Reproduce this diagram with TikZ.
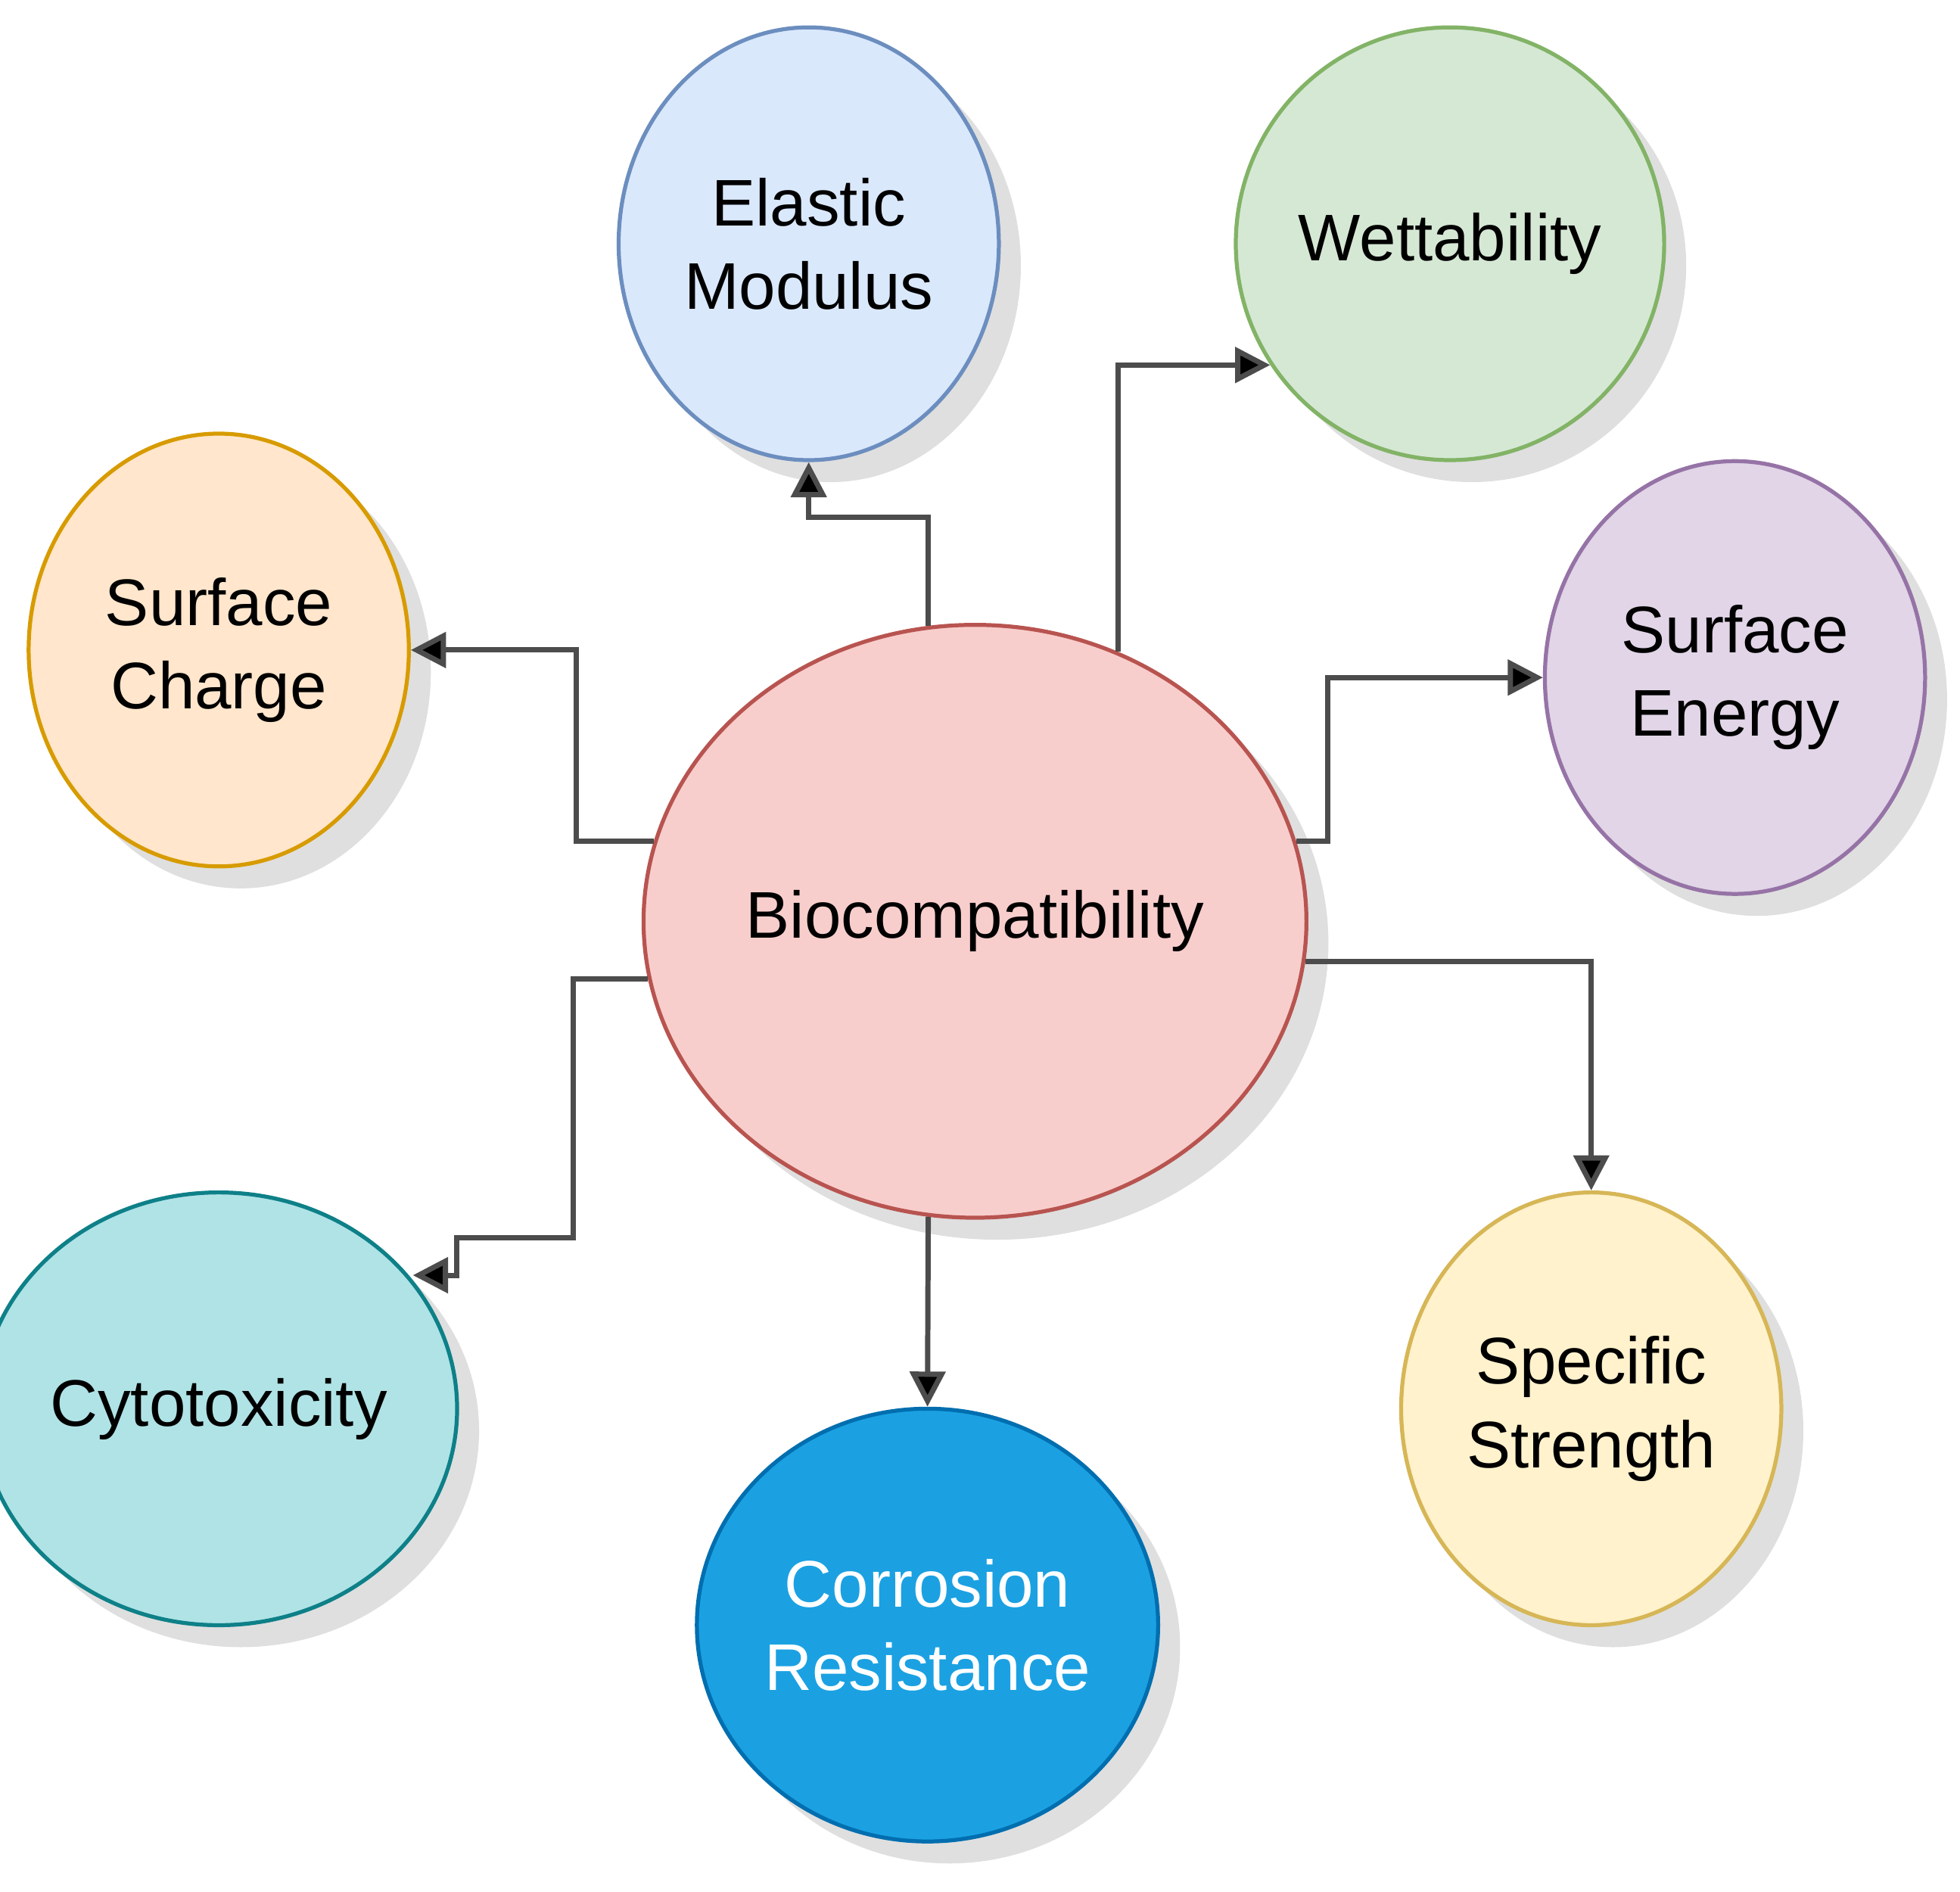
\documentclass[tikz,border=0pt]{standalone}
\usepackage{fontspec}
\setmainfont{Liberation Sans}
\usetikzlibrary{positioning, arrows.meta, shapes.geometric, shadows}
\definecolor{bioFill}{HTML}{F8CECC}
\definecolor{bioLine}{HTML}{B85450}

\begin{document}
\begin{tikzpicture}[%
		x=0.01cm, y=-0.01cm,
		prop/.style={
			ellipse,
			minimum width=3.04cm,
			minimum height=3.46cm,
			inner sep=0pt,
			line width=0.9pt,
			align=center,
			font=\fontsize{15}{19}\selectfont,
			drop shadow={opacity=0.25, shadow xshift=5pt, shadow yshift=-5pt},
			draw
		},
		core/.style={
			prop,
			minimum width=5.3cm,
			minimum height=4.74cm
		},
		link/.style={
			line width=1.2pt,
			draw=black!70,
			-{Triangle[length=8pt,width=8pt,fill=black]}
		}]

		\useasboundingbox (0,0) rectangle (1568,1513);

		% NODES
		\node (bio) [core, fill=bioFill, draw=bioLine] at (780,737) {Biocompatibility};
		\node (elastic) [prop, fill={rgb,255:red,218;green,232;blue,252}, draw={rgb,255:red,108;green,142;blue,191}] at (647,195) {Elastic\\Modulus};
		\node (wet) [prop, fill={rgb,255:red,213;green,232;blue,212}, draw={rgb,255:red,130;green,179;blue,102}] at (1160,195) {Wettability};
		\node (charge) [prop, fill={rgb,255:red,255;green,230;blue,204}, draw={rgb,255:red,215;green,155;blue,0}] at (175,520) {Surface\\Charge};
		\node (energy) [prop, fill={rgb,255:red,225;green,213;blue,231}, draw={rgb,255:red,150;green,115;blue,166}] at (1388,542) {Surface\\Energy};
		\node (cyto) [prop, fill={rgb,255:red,176;green,227;blue,230}, draw={rgb,255:red,14;green,128;blue,136}] at (175,1127) {Cytotoxicity};
		\node (corr) [prop, fill={rgb,255:red,27;green,161;blue,226}, draw={rgb,255:red,0;green,110;blue,175}, text=white] at (742,1300) {Corrosion\\Resistance};
		\node (strength) [prop, fill={rgb,255:red,255;green,242;blue,204}, draw={rgb,255:red,214;green,182;blue,86}] at (1273,1127) {Specific\\Strength};

		% LINES
		\draw[link] (bio.99) -- ++(0,-87) -| (elastic.south);
		\draw[link] (bio.62) |- (wet.214);
		\draw[link] (bio.166) -- ++(-62,0) |- (charge.east);
		\draw[link] (bio.14) -- ++(25,0) |- (energy.west);
		\draw[link] (bio.190) -- ++(-60,0) -- ++(0,207) -- ++(-93,0) -- ++(0,30) -- ++(-35,0);
		\draw[link] (bio.353) -| (strength.north);
		\draw[link] (bio.261) -- (corr.north);
\end{tikzpicture}
\end{document}
